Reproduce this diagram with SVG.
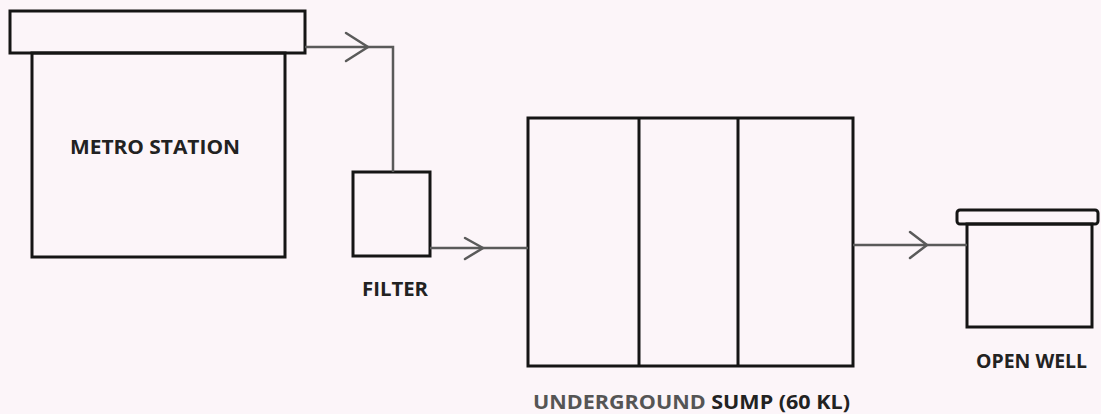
<svg xmlns="http://www.w3.org/2000/svg" width="1101" height="414" viewBox="0 0 1101 414">
<style>
.box{fill:none;stroke:#151515;stroke-width:3;stroke-linejoin:miter}
.conn{fill:none;stroke:#5a5a5a;stroke-width:2.5}
.head{fill:none;stroke:#5a5a5a;stroke-width:2.5;stroke-linecap:round;stroke-linejoin:miter}
.lbl{font-family:"Open Sans","Liberation Sans",sans-serif;font-weight:bold;font-size:20px;fill:#222}
</style>
<rect width="1101" height="414" fill="#fcf5f9"/>
<g id="metro-station">
<rect class="box" x="10" y="11" width="295" height="42"/>
<rect class="box" x="32" y="53" width="253" height="204"/>
<text class="lbl" x="70" y="154" textLength="170" lengthAdjust="spacingAndGlyphs">METRO STATION</text>
</g>
<g id="filter">
<rect class="box" x="353" y="172" width="77" height="84"/>
<text class="lbl" x="362" y="296" textLength="66" lengthAdjust="spacingAndGlyphs">FILTER</text>
</g>
<g id="sump">
<rect class="box" x="528" y="118" width="325" height="248"/>
<line class="box" x1="639" y1="118" x2="639" y2="366"/>
<line class="box" x1="738" y1="118" x2="738" y2="366"/>
<text class="lbl" x="533" y="409" textLength="317" lengthAdjust="spacingAndGlyphs"><tspan fill="#555">UNDERGROUND</tspan> SUMP  (60 KL)</text>
</g>
<g id="open-well">
<rect class="box" x="957" y="210" width="141" height="14" rx="3"/>
<rect class="box" x="967" y="224" width="125" height="103"/>
<text class="lbl" x="976" y="368" textLength="111" lengthAdjust="spacingAndGlyphs">OPEN WELL</text>
</g>
<g id="connectors">
<polyline class="conn" points="305,47 393,47 393,172"/>
<polyline class="head" points="346,33 368,47 346,61"/>
<line class="conn" x1="430" y1="248" x2="528" y2="248"/>
<polyline class="head" points="465,238 483,248 465,259"/>
<line class="conn" x1="853" y1="245" x2="967" y2="245"/>
<polyline class="head" points="910,232 927,245 910,258"/>
</g>
</svg>
